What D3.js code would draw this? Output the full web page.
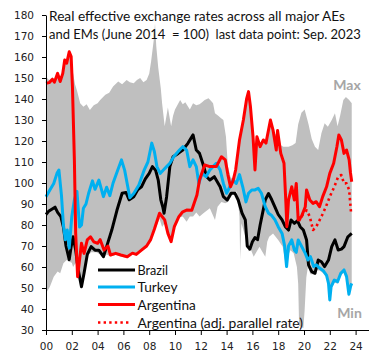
<!DOCTYPE html>
<html><head><meta charset="utf-8">
<script src="https://cdn.jsdelivr.net/npm/d3@7"></script>
<style>html,body{margin:0;padding:0;background:#fff}</style>
</head><body>
<svg id="c" width="383" height="360"></svg>
<script>
// ---------- data ----------
const yTickValues = [30,40,50,60,70,80,90,100,110,120,130,140,150,160,170,180];
const xTickYears = [2000,2002,2004,2006,2008,2010,2012,2014,2016,2018,2020,2022,2024];
const xTickLabels = ["00","02","04","06","08","10","12","14","16","18","20","22","24"];
const titleLines = ["Real effective exchange rates across all major AEs",
                    "and EMs (June 2014  = 100)  last data point: Sep. 2023"];
const seriesNames = ["Brazil","Turkey","Argentina","Argentina (adj. parallel rate)"];

const bandMax = [[2000.0,163],[2000.08,150],[2000.25,149],[2000.5,150.5],[2000.65,149],[2000.9,153],[2001.1,149.5],[2001.3,153],[2001.45,159.5],[2001.6,158],[2001.8,163.5],[2001.95,161],[2002.05,154],[2002.25,147],[2002.4,144],[2002.65,138],[2002.9,136.3],[2003.15,137.5],[2003.4,134.8],[2003.7,137],[2004.0,138],[2004.2,139.5],[2004.6,142],[2004.9,143],[2005.2,146],[2005.6,148.3],[2005.9,147],[2006.25,149],[2006.5,148],[2006.8,147.5],[2007.05,149],[2007.3,150],[2007.55,148],[2007.8,149],[2008.0,152],[2008.15,158],[2008.35,168],[2008.45,176],[2008.55,165],[2008.7,155],[2008.9,145],[2009.0,138],[2009.2,127],[2009.45,136],[2009.7,127],[2009.85,132],[2010.0,135],[2010.4,139.5],[2010.6,137.5],[2010.8,138.5],[2011.15,135],[2011.4,138],[2011.65,137],[2011.9,137.5],[2012.1,138.5],[2012.3,139.5],[2012.6,140.3],[2012.8,139],[2012.95,138],[2013.1,133.2],[2013.35,132],[2013.55,131],[2013.75,130],[2013.95,122],[2014.1,108],[2014.3,103],[2014.5,101.5],[2014.7,107],[2015.0,121],[2015.3,131],[2015.55,140.5],[2015.7,144],[2015.85,137],[2016.05,123],[2016.2,118],[2016.35,122.5],[2016.6,119],[2016.85,121],[2017.05,120],[2017.4,130.5],[2017.6,126],[2017.8,123],[2017.95,125.5],[2018.2,118],[2018.4,117.3],[2018.8,117.3],[2019.1,118],[2019.35,119],[2019.55,128],[2019.8,133.5],[2020.05,135],[2020.35,128],[2020.6,121],[2020.85,117.3],[2021.1,115.7],[2021.35,123.7],[2021.6,128.4],[2021.85,126.8],[2022.15,130],[2022.4,133.2],[2022.6,127],[2022.8,132],[2023.05,139.5],[2023.25,141],[2023.5,139.5],[2023.7,138]];

const bandMin = [[2000.0,47.5],[2000.3,50.6],[2000.6,55.4],[2000.9,57.8],[2001.1,57],[2001.35,61.8],[2001.6,63.3],[2001.8,62.5],[2002.0,62],[2002.1,60],[2002.3,62],[2002.45,54.8],[2002.6,55],[2002.75,50],[2002.95,55.5],[2003.2,65],[2003.5,67],[2003.9,67],[2004.2,66],[2004.45,64.2],[2004.7,66],[2005.0,65],[2005.4,65.7],[2005.8,65],[2006.3,64.2],[2006.7,66],[2007.0,65.5],[2007.4,67.5],[2007.8,69.5],[2008.1,72.3],[2008.4,77.5],[2008.6,80],[2008.8,83],[2009.0,79],[2009.2,81],[2009.45,75.5],[2009.7,71.5],[2009.95,78.5],[2010.3,83.5],[2010.6,84],[2010.9,81.6],[2011.15,84],[2011.4,84],[2011.65,86],[2011.9,84],[2012.2,85.6],[2012.5,87],[2012.7,88],[2013.1,82.4],[2013.3,88.7],[2013.6,91],[2013.9,90.3],[2014.1,91],[2014.5,95],[2014.8,96],[2015.0,84],[2015.05,63.3],[2015.15,80.8],[2015.45,74.4],[2015.7,67.5],[2015.9,68],[2016.1,64.9],[2016.3,67],[2016.55,69.7],[2016.7,68],[2017.0,64.9],[2017.15,72],[2017.3,74.4],[2017.6,76],[2018.0,72.9],[2018.35,69.7],[2018.55,62],[2018.65,59.5],[2018.8,66],[2018.95,68],[2019.2,66.5],[2019.45,60],[2019.55,52],[2019.62,32],[2019.95,31],[2020.05,39.5],[2020.18,55],[2020.3,60],[2020.5,56.5],[2020.75,56.5],[2020.95,58.5],[2021.2,58.3],[2021.5,57],[2021.75,55],[2021.9,51],[2022.0,43.3],[2022.1,49.5],[2022.35,52.6],[2022.6,52],[2022.85,55.8],[2023.1,57.4],[2023.3,54.2],[2023.48,45.8],[2023.62,49.8],[2023.7,51]];

const brazil = [[2000.0,85],[2000.2,86.5],[2000.45,87.5],[2000.7,88.5],[2000.9,86],[2001.15,84],[2001.35,79],[2001.55,70],[2001.8,63.5],[2001.95,69.7],[2002.1,74.4],[2002.3,68.1],[2002.5,58.6],[2002.75,50.6],[2002.95,57],[2003.2,66],[2003.5,69.7],[2003.8,68],[2004.1,68],[2004.45,64.9],[2004.7,69.7],[2005.1,77.6],[2005.5,87],[2005.9,95.1],[2006.2,95.5],[2006.45,92],[2006.8,93.5],[2007.1,96.7],[2007.4,98.2],[2007.7,102],[2008.0,104.6],[2008.25,107.8],[2008.5,106],[2008.7,101.4],[2008.9,92],[2009.05,88.7],[2009.15,85.6],[2009.35,93.5],[2009.6,107.8],[2009.85,112.5],[2010.25,114.1],[2010.6,115.7],[2011.0,118.9],[2011.4,122.9],[2011.65,115.7],[2011.9,114.1],[2012.15,109.4],[2012.45,103],[2012.7,101.4],[2013.05,103],[2013.5,98.2],[2013.75,93.5],[2014.05,91.9],[2014.35,95.1],[2014.65,95.1],[2014.9,91.9],[2015.2,85.6],[2015.45,82.4],[2015.6,70],[2015.8,68.5],[2016.0,72],[2016.2,74],[2016.4,73],[2016.6,80],[2016.8,86],[2017.0,92],[2017.25,95],[2017.5,92],[2017.75,88.5],[2018.0,85],[2018.3,82.4],[2018.55,79.2],[2018.8,77.6],[2019.0,82.4],[2019.25,80.8],[2019.5,82],[2019.7,79.2],[2019.95,77.6],[2020.2,72.9],[2020.35,61],[2020.6,57.8],[2020.85,57],[2021.1,63.3],[2021.35,62.5],[2021.6,60.2],[2021.9,63.3],[2022.15,69.7],[2022.4,72.9],[2022.65,68.1],[2022.9,68.5],[2023.1,69.7],[2023.4,74.4],[2023.7,76]];

const turkey = [[2000.0,93.5],[2000.3,96.7],[2000.6,99.8],[2000.85,104.6],[2001.0,106.2],[2001.2,94],[2001.35,80],[2001.5,73],[2001.65,77.6],[2001.8,69],[2002.0,84],[2002.2,92],[2002.4,96],[2002.6,79],[2002.75,80],[2002.9,88],[2003.1,90],[2003.3,95],[2003.6,101],[2003.8,97],[2004.1,101.4],[2004.45,93.5],[2004.7,98],[2004.95,94],[2005.2,100],[2005.55,106],[2005.85,111],[2006.1,106],[2006.5,93],[2006.8,95],[2007.2,99],[2007.6,106],[2007.9,110],[2008.2,119],[2008.4,115],[2008.6,107.8],[2008.85,104.6],[2009.1,106.2],[2009.35,107.8],[2009.6,109.4],[2009.9,112.5],[2010.35,115.7],[2010.6,117.3],[2010.9,115.7],[2011.15,107.8],[2011.4,111],[2011.65,107.8],[2011.85,99.8],[2012.1,104.6],[2012.4,103],[2012.7,106.2],[2012.95,107.8],[2013.2,109.4],[2013.5,106.2],[2013.75,99.8],[2014.0,95.1],[2014.25,98.2],[2014.5,101.4],[2014.75,99.8],[2015.0,104],[2015.25,98.2],[2015.5,91],[2015.7,95.1],[2015.95,96.7],[2016.2,96.7],[2016.45,97.5],[2016.7,95.1],[2017.0,88.7],[2017.25,85.6],[2017.5,84.5],[2017.75,82.4],[2018.0,79.2],[2018.3,76],[2018.5,70],[2018.65,60.2],[2018.8,70],[2019.05,72.9],[2019.25,68.1],[2019.4,67],[2019.55,72.9],[2019.8,70],[2020.1,66.5],[2020.3,63.3],[2020.5,64.9],[2020.75,60.2],[2020.95,61],[2021.2,59.5],[2021.5,58.2],[2021.75,56],[2021.9,52.2],[2022.0,44.3],[2022.1,50.6],[2022.35,53.8],[2022.6,53],[2022.85,57],[2023.1,58.6],[2023.3,55.4],[2023.48,47],[2023.62,51],[2023.7,52.2]];

const argentina = [[2000.0,147.5],[2000.25,147.8],[2000.5,149.4],[2000.65,148],[2000.9,152.2],[2001.1,148.3],[2001.3,152.2],[2001.45,158.6],[2001.6,157],[2001.8,162.5],[2001.95,160.2],[2002.05,145.9],[2002.2,111],[2002.3,76],[2002.45,55.4],[2002.6,63.3],[2002.75,71.3],[2002.95,66.5],[2003.2,72.9],[2003.45,74.4],[2003.7,72],[2004.0,71.3],[2004.2,73],[2004.5,68.1],[2004.8,70],[2005.0,65.7],[2005.4,66.5],[2005.8,65.7],[2006.3,64.9],[2006.7,66.6],[2007.0,66],[2007.4,68],[2007.8,70],[2008.1,72.9],[2008.4,78],[2008.8,85.6],[2009.2,82.4],[2009.45,76],[2009.7,72.1],[2009.95,79.2],[2010.3,84],[2010.6,86.3],[2010.9,87.1],[2011.3,87],[2011.7,94.3],[2011.9,101.4],[2012.3,108.6],[2012.7,107.8],[2013.2,107.8],[2013.6,112.5],[2013.9,111],[2014.1,104],[2014.3,98.2],[2014.5,101],[2014.7,106.2],[2015.0,120.5],[2015.3,130],[2015.55,140],[2015.7,143.5],[2015.85,136.3],[2016.05,122],[2016.2,106.2],[2016.35,122],[2016.6,117.3],[2016.85,120.5],[2017.05,119],[2017.4,130],[2017.6,125.2],[2017.85,115.7],[2017.95,125],[2018.2,114.1],[2018.45,109.4],[2018.6,90],[2018.67,79.2],[2018.8,91.9],[2019.05,98.2],[2019.25,91.9],[2019.4,99.8],[2019.55,82.4],[2019.8,84],[2020.1,88.7],[2020.2,96.7],[2020.45,91.9],[2020.7,90.3],[2020.95,91.1],[2021.2,88.7],[2021.45,93.5],[2021.75,98.2],[2022.0,104.6],[2022.3,109.4],[2022.55,117.3],[2022.7,122.9],[2022.9,120.5],[2023.1,114.1],[2023.3,115.7],[2023.5,111],[2023.6,105],[2023.7,100.6]];

const argentinaParallel = [[2019.62,82],[2019.9,85],[2020.2,87],[2020.45,84],[2020.7,77.6],[2020.95,79.2],[2021.35,84],[2021.7,88.7],[2022.0,93.5],[2022.35,98.2],[2022.65,103],[2022.9,103.8],[2023.1,99.8],[2023.3,99.8],[2023.5,96.7],[2023.65,85.6]];

// ---------- drawing ----------
const svg = d3.select("#c");
const x = d3.scaleLinear().domain([2000, 2025]).range([46, 368.5]);
const y = d3.scaleLinear().domain([30, 180]).range([330, 15]);
const line = d3.line().x(d => x(d[0])).y(d => y(d[1]));

// min-max band
svg.append("path")
  .attr("d", line(bandMax.concat(bandMin.slice().reverse())) + "Z")
  .attr("fill", "#BFBFBF");

// series
const styles = [
  {data: brazil, color: "#000000", dash: null},
  {data: turkey, color: "#00B0F0", dash: null},
  {data: argentina, color: "#FF0000", dash: null},
  {data: argentinaParallel, color: "#FF0000", dash: "2.4,3.2"}
];
styles.forEach(s => {
  svg.append("path").attr("d", line(s.data))
    .attr("fill", "none").attr("stroke", s.color)
    .attr("stroke-width", s.dash ? 2.6 : 3)
    .attr("stroke-linejoin", "round")
    .attr("stroke-dasharray", s.dash);
});

// axes
const fontTick = "'DejaVu Sans', sans-serif";
const yAxis = svg.append("g").attr("transform", "translate(46,0)")
  .call(d3.axisLeft(y).tickValues(yTickValues).tickSize(4).tickSizeOuter(0).tickPadding(8));
const xAxis = svg.append("g").attr("transform", "translate(0,330)")
  .call(d3.axisBottom(x).tickValues(xTickYears).tickFormat((d, i) => xTickLabels[i])
        .tickSize(5).tickSizeOuter(0).tickPadding(8));
[yAxis, xAxis].forEach(g => {
  g.selectAll("path,line").attr("stroke", "#000").attr("stroke-width", 1);
  g.selectAll("text").attr("fill", "#222").style("font-family", fontTick).style("font-size", "10.5px");
});

// fit text to a target width by adjusting font-size
function fitText(sel, targetWidth, baseSize) {
  sel.style("font-size", baseSize + "px");
  const w = sel.node().getComputedTextLength();
  sel.style("font-size", (baseSize * targetWidth / w).toFixed(2) + "px");
}
const fontText = "Lato, 'Open Sans', sans-serif";

// title
const t1 = svg.append("text").attr("x", 49).attr("y", 20.5).text(titleLines[0])
  .attr("fill", "#111").style("font-family", fontText);
fitText(t1, 296, 14);
const t2 = svg.append("text").attr("x", 49).attr("y", 39).text(titleLines[1])
  .attr("fill", "#111").style("font-family", fontText).style("white-space", "pre");
t2.attr("xml:space", "preserve");
fitText(t2, 312, 14);

// Max / Min labels
svg.append("text").attr("x", 347).attr("y", 90).attr("text-anchor", "middle")
  .text("Max").attr("fill", "#A6A6A6").style("font-family", fontText)
  .style("font-weight", "bold").style("font-size", "14px");
svg.append("text").attr("x", 349.5).attr("y", 318).attr("text-anchor", "middle")
  .text("Min").attr("fill", "#A6A6A6").style("font-family", fontText)
  .style("font-weight", "bold").style("font-size", "14px");

// legend
const legendRows = [270, 287, 304.5, 322.5];
const legendWidths = [30.6, 40, 58.3, 165.6];
styles.forEach((s, i) => {
  svg.append("line").attr("x1", 98).attr("x2", s.dash ? 131 : 135)
    .attr("y1", legendRows[i]).attr("y2", legendRows[i])
    .attr("stroke", s.color).attr("stroke-width", s.dash ? 2.6 : 3)
    .attr("stroke-dasharray", s.dash);
  const t = svg.append("text").attr("x", 137.5).attr("y", legendRows[i] + 5)
    .text(seriesNames[i]).attr("fill", "#111").style("font-family", fontText);
  fitText(t, legendWidths[i], 15);
});
</script>
</body></html>
